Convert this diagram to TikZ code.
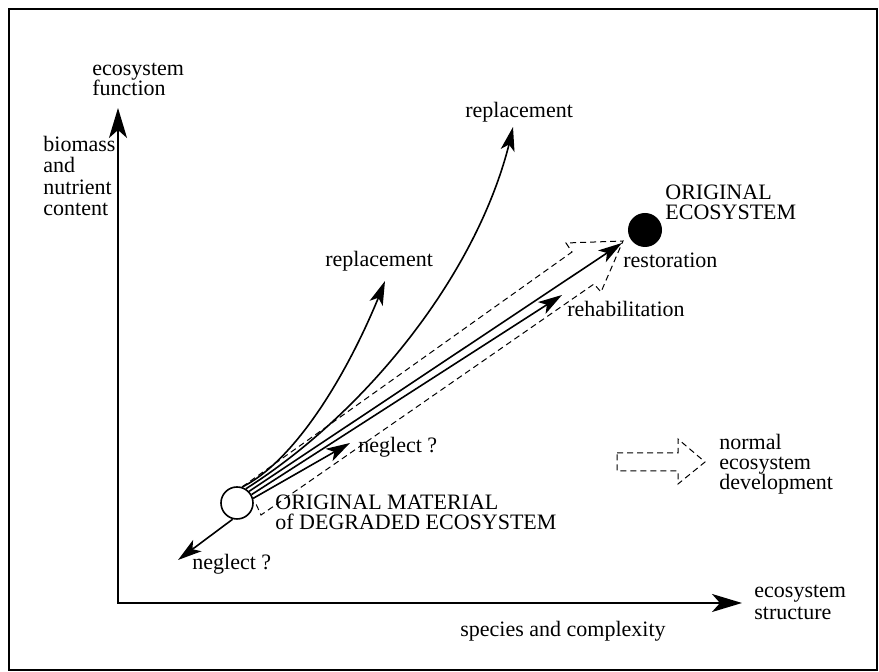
\documentclass[tikz,border=0pt]{standalone}
\usepackage{fontspec}
\setmainfont{Liberation Serif}
\usetikzlibrary{arrows.meta,bending}
\begin{document}
\begin{tikzpicture}[x=0.5pt,y=-0.5pt,
  lbl/.style={inner sep=0pt,anchor=base west,font=\fontsize{11}{13}\selectfont},
  fan/.style={line width=0.8pt,-{Stealth[length=12pt,width=7pt,inset=3pt]}},
  dsh/.style={line width=0.5pt,dash pattern=on 3pt off 2pt}]
\useasboundingbox (0,0) rectangle (879,672);
\draw[line width=0.8pt] (9,9) rectangle (877,670);
% axes
\coordinate (org) at (118,603);
\coordinate (ytip) at (118,108);
\coordinate (xtip) at (742,603);
\draw[line width=1pt,{Stealth[length=15pt,width=9pt,inset=4pt]}-{Stealth[length=15pt,width=9pt,inset=4pt]}] (ytip) -- (org) -- (xtip);
% hollow dashed arrow (normal development)
\draw[dsh] (242,487) -- (572,252) -- (566,243) -- (623,241) -- (601,292) -- (594,284) -- (261,515) -- (256,504);
% legend arrow
\draw[dsh] (617,453) -- (678,453) -- (678,439) -- (705,462) -- (678,484) -- (678,471) -- (617,471) -- cycle;
% states
\node[circle,draw,line width=0.8pt,minimum size=16pt,inner sep=0pt,fill=white] (deg) at (237,503) {};
\node[circle,fill=black,minimum size=17pt,inner sep=0pt] (orig) at (645,230) {};
% end points
\coordinate (repA) at (385,281);
\coordinate (repB) at (513,127);
\coordinate (rest) at (622,243);
\coordinate (rehab) at (562,295);
\coordinate (negM) at (350,443);
\coordinate (negL) at (178,560);
\draw[fan] (deg.72) .. controls (300,458) and (355,360) .. (repA);
\draw[fan] (deg.58) .. controls (370,410) and (485,265) .. (repB);
\draw[fan] (deg.44) -- (rest);
\draw[fan] (deg.30) -- (rehab);
\draw[fan] (deg.16) -- (negM);
\draw[fan] (deg.-105) -- (negL);
% labels
\node[lbl] (t1) at (92,76) {ecosystem};
\node[lbl] (t2) at (92,96) {function};
\node[lbl] (t3) at (43,152) {biomass};
\node[lbl] (t4) at (43,173) {and};
\node[lbl] (t5) at (43,195) {nutrient};
\node[lbl] (t6) at (43,216) {content};
\node[lbl] (t7) at (465,118) {replacement};
\node[lbl] (t8) at (325,267) {replacement};
\node[lbl] (t9) at (665,200) {ORIGINAL};
\node[lbl] (t10) at (665,220) {ECOSYSTEM};
\node[lbl] (t11) at (623,268) {restoration};
\node[lbl] (t12) at (567,317) {rehabilitation};
\node[lbl] (t13) at (358,453) {neglect ?};
\node[lbl] (t14) at (719,450) {normal};
\node[lbl] (t15) at (719,470) {ecosystem};
\node[lbl] (t16) at (719,490) {development};
\node[lbl] (t17) at (275,510) {ORIGINAL MATERIAL};
\node[lbl] (t18) at (275,530) {of DEGRADED ECOSYSTEM};
\node[lbl] (t19) at (192,570) {neglect ?};
\node[lbl] (t20) at (460,637) {species and complexity};
\node[lbl] (t21) at (754,598) {ecosystem};
\node[lbl] (t22) at (754,620) {structure};
\end{tikzpicture}
\end{document}
